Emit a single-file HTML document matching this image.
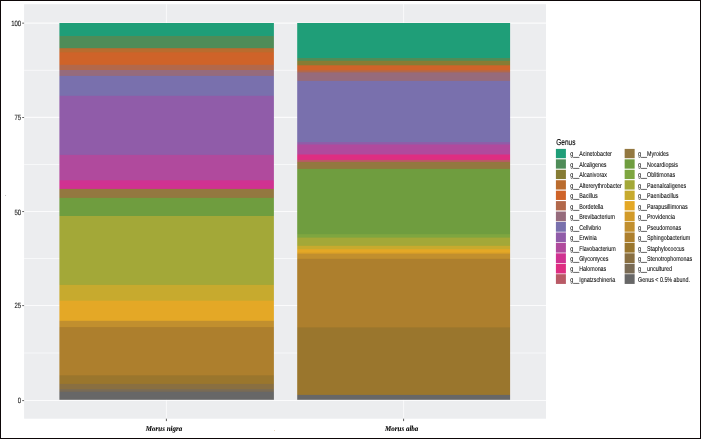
<!DOCTYPE html>
<html><head><meta charset="utf-8"><title>Genus relative abundance</title>
<style>
html,body{margin:0;padding:0;background:#fff;}
body{width:701px;height:439px;overflow:hidden;}
svg{display:block;}
text{font-family:"Liberation Sans",Arial,sans-serif;fill:#1a1a1a;text-rendering:geometricPrecision;}
.ax{font-size:6px;fill:#222;stroke:#222;stroke-width:0.1px;}
.lt{font-size:6.5px;fill:#000;stroke:#000;stroke-width:0.1px;}
.ll{font-size:5.35px;fill:#000;stroke:#000;stroke-width:0.05px;}
.xl{font-family:"Liberation Serif","Times New Roman",serif;font-weight:bold;font-style:italic;font-size:7px;fill:#000;stroke:#000;stroke-width:0.08px;}
</style></head><body>
<svg width="701" height="439" viewBox="0 0 701 439">
<rect x="0" y="0" width="701" height="439" fill="#fff"/>
<rect x="24.1" y="4.2" width="521.9" height="414.5" fill="#ECEDEF"/>
<line x1="24.1" x2="546.0" y1="70.3" y2="70.3" stroke="#fff" stroke-width="0.6"/>
<line x1="24.1" x2="546.0" y1="164.5" y2="164.5" stroke="#fff" stroke-width="0.6"/>
<line x1="24.1" x2="546.0" y1="258.5" y2="258.5" stroke="#fff" stroke-width="0.6"/>
<line x1="24.1" x2="546.0" y1="353.0" y2="353.0" stroke="#fff" stroke-width="0.6"/>
<line x1="24.1" x2="546.0" y1="400.5" y2="400.5" stroke="#FBFBFC" stroke-width="1.15"/>
<line x1="24.1" x2="546.0" y1="305.5" y2="305.5" stroke="#FBFBFC" stroke-width="1.15"/>
<line x1="24.1" x2="546.0" y1="211.45" y2="211.45" stroke="#FBFBFC" stroke-width="1.15"/>
<line x1="24.1" x2="546.0" y1="117.4" y2="117.4" stroke="#FBFBFC" stroke-width="1.15"/>
<line x1="24.1" x2="546.0" y1="23.05" y2="23.05" stroke="#FBFBFC" stroke-width="1.15"/>
<line x1="166.4" x2="166.4" y1="4.2" y2="418.7" stroke="#fff" stroke-width="0.7"/>
<line x1="403.6" x2="403.6" y1="4.2" y2="418.7" stroke="#fff" stroke-width="0.7"/>
<mask id="cl" maskUnits="userSpaceOnUse" x="0" y="0" width="701" height="439"><rect x="59.4" y="23.0" width="214.5" height="376.8" fill="#fff"/></mask>
<g mask="url(#cl)">
<rect x="57" y="23.0" width="219" height="379.8" fill="#1F9E78"/>
<rect x="57" y="36.0" width="219" height="366.8" fill="#4F8C58"/>
<rect x="57" y="48.2" width="219" height="354.6" fill="#BA6C2E"/>
<rect x="57" y="52.3" width="219" height="350.5" fill="#CF6329"/>
<rect x="57" y="64.8" width="219" height="338.0" fill="#B2684B"/>
<rect x="57" y="70.0" width="219" height="332.8" fill="#966B7C"/>
<rect x="57" y="75.9" width="219" height="326.9" fill="#7970AD"/>
<rect x="57" y="95.8" width="219" height="307.0" fill="#905CA9"/>
<rect x="57" y="154.9" width="219" height="247.9" fill="#B04A9D"/>
<rect x="57" y="180.3" width="219" height="222.5" fill="#D03291"/>
<rect x="57" y="188.9" width="219" height="213.9" fill="#937840"/>
<rect x="57" y="197.9" width="219" height="204.9" fill="#6F9D3F"/>
<rect x="57" y="216.0" width="219" height="186.8" fill="#A3A838"/>
<rect x="57" y="284.9" width="219" height="117.9" fill="#C7AA2E"/>
<rect x="57" y="300.7" width="219" height="102.1" fill="#E4A826"/>
<rect x="57" y="320.8" width="219" height="82.0" fill="#C18F2E"/>
<rect x="57" y="327.1" width="219" height="75.7" fill="#AD7F2D"/>
<rect x="57" y="375.3" width="219" height="27.5" fill="#9A762D"/>
<rect x="57" y="383.9" width="219" height="18.9" fill="#896F41"/>
<rect x="57" y="389.2" width="219" height="13.6" fill="#796B55"/>
<rect x="57" y="391.8" width="219" height="11.0" fill="#676767"/>
</g>
<mask id="cr" maskUnits="userSpaceOnUse" x="0" y="0" width="701" height="439"><rect x="297.2" y="23.0" width="212.9" height="376.8" fill="#fff"/></mask>
<g mask="url(#cr)">
<rect x="295" y="23.0" width="217" height="379.8" fill="#1F9E78"/>
<rect x="295" y="58.0" width="217" height="344.8" fill="#4F8C58"/>
<rect x="295" y="60.8" width="217" height="342.0" fill="#867C34"/>
<rect x="295" y="65.3" width="217" height="337.5" fill="#CF6329"/>
<rect x="295" y="70.3" width="217" height="332.5" fill="#B2684B"/>
<rect x="295" y="72.4" width="217" height="330.4" fill="#966B7C"/>
<rect x="295" y="80.9" width="217" height="321.9" fill="#7970AD"/>
<rect x="295" y="142.1" width="217" height="260.7" fill="#905CA9"/>
<rect x="295" y="144.5" width="217" height="258.3" fill="#B04A9D"/>
<rect x="295" y="154.5" width="217" height="248.3" fill="#DE2E82"/>
<rect x="295" y="159.9" width="217" height="242.9" fill="#B95A66"/>
<rect x="295" y="161.9" width="217" height="240.9" fill="#937840"/>
<rect x="295" y="168.9" width="217" height="233.9" fill="#6F9D3F"/>
<rect x="295" y="234.2" width="217" height="168.6" fill="#7EA640"/>
<rect x="295" y="237.6" width="217" height="165.2" fill="#A3A838"/>
<rect x="295" y="245.8" width="217" height="157.0" fill="#C7AA2E"/>
<rect x="295" y="249.2" width="217" height="153.6" fill="#E4A826"/>
<rect x="295" y="252.7" width="217" height="150.1" fill="#D29A28"/>
<rect x="295" y="254.0" width="217" height="148.8" fill="#C18F2E"/>
<rect x="295" y="258.8" width="217" height="144.0" fill="#AD7F2D"/>
<rect x="295" y="327.4" width="217" height="75.4" fill="#9A762D"/>
<rect x="295" y="394.9" width="217" height="7.9" fill="#676767"/>
</g>
<line x1="22.2" x2="24.1" y1="400.6" y2="400.6" stroke="#222" stroke-width="0.7"/>
<text transform="translate(21.2,403.00) scale(1,1.27)" text-anchor="end" class="ax">0</text>
<line x1="22.2" x2="24.1" y1="305.6" y2="305.6" stroke="#222" stroke-width="0.7"/>
<text transform="translate(21.2,308.10) scale(1,1.27)" text-anchor="end" class="ax">25</text>
<line x1="22.2" x2="24.1" y1="211.54999999999998" y2="211.54999999999998" stroke="#222" stroke-width="0.7"/>
<text transform="translate(21.2,215.00) scale(1,1.27)" text-anchor="end" class="ax">50</text>
<line x1="22.2" x2="24.1" y1="117.5" y2="117.5" stroke="#222" stroke-width="0.7"/>
<text transform="translate(21.2,120.10) scale(1,1.27)" text-anchor="end" class="ax">75</text>
<line x1="22.2" x2="24.1" y1="23.150000000000002" y2="23.150000000000002" stroke="#222" stroke-width="0.7"/>
<text transform="translate(21.2,25.90) scale(1,1.27)" text-anchor="end" class="ax">100</text>
<line x1="166.4" x2="166.4" y1="418.7" y2="421.1" stroke="#333" stroke-width="0.8"/>
<line x1="403.6" x2="403.6" y1="418.7" y2="421.1" stroke="#333" stroke-width="0.8"/>
<text transform="translate(164,430.55) scale(1,1.06)" text-anchor="middle" class="xl">Morus nigra</text>
<text transform="translate(401.7,430.55) scale(1,1.06)" text-anchor="middle" class="xl">Morus alba</text>
<text transform="translate(556.3,145) scale(1,1.32)" class="lt">Genus</text>
<rect x="555.9" y="148.90" width="10" height="9.3" fill="#1F9E78"/>
<text transform="translate(570.3,156.20) scale(1,1.3)" class="ll">g__Acinetobacter</text>
<rect x="555.9" y="159.34" width="10" height="9.3" fill="#4F8C58"/>
<text transform="translate(570.3,166.68) scale(1,1.3)" class="ll">g__Alcaligenes</text>
<rect x="555.9" y="169.78" width="10" height="9.3" fill="#867C34"/>
<text transform="translate(570.3,177.16) scale(1,1.3)" class="ll">g__Alcanivorax</text>
<rect x="555.9" y="180.22" width="10" height="9.3" fill="#BA6C2E"/>
<text transform="translate(570.3,187.64) scale(1,1.3)" class="ll">g__Altererythrobacter</text>
<rect x="555.9" y="190.66" width="10" height="9.3" fill="#CF6329"/>
<text transform="translate(570.3,198.12) scale(1,1.3)" class="ll">g__Bacillus</text>
<rect x="555.9" y="201.10" width="10" height="9.3" fill="#B2684B"/>
<text transform="translate(570.3,208.60) scale(1,1.3)" class="ll">g__Bordetella</text>
<rect x="555.9" y="211.54" width="10" height="9.75" fill="#966B7C"/>
<text transform="translate(570.3,219.08) scale(1,1.3)" class="ll">g__Brevibacterium</text>
<rect x="555.9" y="221.98" width="10" height="9.75" fill="#7970AD"/>
<text transform="translate(570.3,229.56) scale(1,1.3)" class="ll">g__Cellvibrio</text>
<rect x="555.9" y="232.42" width="10" height="9.75" fill="#905CA9"/>
<text transform="translate(570.3,240.04) scale(1,1.3)" class="ll">g__Erwinia</text>
<rect x="555.9" y="242.86" width="10" height="9.75" fill="#B04A9D"/>
<text transform="translate(570.3,250.52) scale(1,1.3)" class="ll">g__Flavobacterium</text>
<rect x="555.9" y="253.30" width="10" height="9.75" fill="#D03291"/>
<text transform="translate(570.3,261.00) scale(1,1.3)" class="ll">g__Glycomyces</text>
<rect x="555.9" y="263.74" width="10" height="9.75" fill="#DE2E82"/>
<text transform="translate(570.3,271.48) scale(1,1.3)" class="ll">g__Halomonas</text>
<rect x="555.9" y="274.18" width="10" height="9.75" fill="#B95A66"/>
<text transform="translate(570.3,281.96) scale(1,1.3)" class="ll">g__Ignatzschineria</text>
<rect x="624.65" y="148.90" width="10" height="9.3" fill="#937840"/>
<text transform="translate(638.1,156.20) scale(1,1.3)" class="ll">g__Myroides</text>
<rect x="624.65" y="159.34" width="10" height="9.3" fill="#6F9D3F"/>
<text transform="translate(638.1,166.68) scale(1,1.3)" class="ll">g__Nocardiopsis</text>
<rect x="624.65" y="169.78" width="10" height="9.3" fill="#7EA640"/>
<text transform="translate(638.1,177.16) scale(1,1.3)" class="ll">g__Oblitimonas</text>
<rect x="624.65" y="180.22" width="10" height="9.3" fill="#A3A838"/>
<text transform="translate(638.1,187.64) scale(1,1.3)" class="ll">g__Paenalcaligenes</text>
<rect x="624.65" y="190.66" width="10" height="9.3" fill="#C7AA2E"/>
<text transform="translate(638.1,198.12) scale(1,1.3)" class="ll">g__Paenibacillus</text>
<rect x="624.65" y="201.10" width="10" height="9.3" fill="#E4A826"/>
<text transform="translate(638.1,208.60) scale(1,1.3)" class="ll">g__Parapusillimonas</text>
<rect x="624.65" y="211.54" width="10" height="9.75" fill="#D29A28"/>
<text transform="translate(638.1,219.08) scale(1,1.3)" class="ll">g__Providencia</text>
<rect x="624.65" y="221.98" width="10" height="9.75" fill="#C18F2E"/>
<text transform="translate(638.1,229.56) scale(1,1.3)" class="ll">g__Pseudomonas</text>
<rect x="624.65" y="232.42" width="10" height="9.75" fill="#AD7F2D"/>
<text transform="translate(638.1,240.04) scale(1,1.3)" class="ll">g__Sphingobacterium</text>
<rect x="624.65" y="242.86" width="10" height="9.75" fill="#9A762D"/>
<text transform="translate(638.1,250.52) scale(1,1.3)" class="ll">g__Staphylococcus</text>
<rect x="624.65" y="253.30" width="10" height="9.75" fill="#896F41"/>
<text transform="translate(638.1,261.00) scale(1,1.3)" class="ll">g__Stenotrophomonas</text>
<rect x="624.65" y="263.74" width="10" height="9.75" fill="#796B55"/>
<text transform="translate(638.1,271.48) scale(1,1.3)" class="ll">g__uncultured</text>
<rect x="624.65" y="274.18" width="10" height="9.75" fill="#676767"/>
<text transform="translate(638.1,281.96) scale(1,1.3)" class="ll">Genus &lt; 0.5% abund.</text>
<rect x="5" y="195" width="1" height="1" fill="#c4c4c4"/>
<rect x="274" y="430" width="1" height="1" fill="#ead9bf"/>
<rect x="0.5" y="0.5" width="700" height="438" fill="none" stroke="#0d0708" stroke-width="1"/>
</svg>
</body></html>
